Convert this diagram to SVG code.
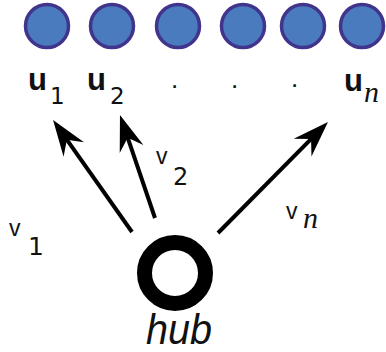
<svg xmlns="http://www.w3.org/2000/svg" width="386" height="352" viewBox="0 0 386 352">
  <defs>
    <style>
      .node { fill: #4a7bbf; stroke: #41348c; stroke-width: 3.5; }
      .u { font-family: "Liberation Sans", Arial, sans-serif; font-weight: bold; font-size: 31px; fill: #111; }
      .sub { font-family: "DejaVu Sans", sans-serif; font-size: 23px; fill: #111; }
      .it { font-family: "Liberation Serif", serif; font-style: italic; font-size: 30px; fill: #111; }
      .v { font-family: "Liberation Sans", Arial, sans-serif; font-size: 23px; fill: #111; }
      .dot { font-family: "Liberation Sans", Arial, sans-serif; font-size: 26px; fill: #111; }
      .edge { stroke: #000; stroke-width: 4; fill: none; marker-end: url(#stealth); }
      .hubtxt { font-family: "Liberation Sans", Arial, sans-serif; font-style: italic; font-size: 42px; fill: #111; }
    </style>
    <marker id="stealth" markerUnits="userSpaceOnUse" markerWidth="60" markerHeight="60" refX="0" refY="0" orient="auto" overflow="visible" viewBox="-30 -30 60 60">
      <path d="M15,0 L-21,-12.5 L-9,0 L-21,12.5 Z" fill="#000"/>
    </marker>
  </defs>
  <rect width="386" height="352" fill="#fff"/>

  <g id="u1">
    <circle class="node" cx="47" cy="26" r="21.5"/>
    <text class="u" x="28" y="90">u</text>
    <text class="sub" x="50" y="104">1</text>
  </g>
  <g id="u2">
    <circle class="node" cx="112" cy="26" r="21.5"/>
    <text class="u" x="87" y="90">u</text>
    <text class="sub" x="110" y="104">2</text>
  </g>
  <g id="u3">
    <circle class="node" cx="178" cy="26" r="21.5"/>
    <text class="dot" x="171" y="88">.</text>
  </g>
  <g id="u4">
    <circle class="node" cx="243" cy="26" r="21.5"/>
    <text class="dot" x="231" y="88">.</text>
  </g>
  <g id="u5">
    <circle class="node" cx="303" cy="26" r="21.5"/>
    <text class="dot" x="291" y="87">.</text>
  </g>
  <g id="un">
    <circle class="node" cx="362" cy="26" r="21.5"/>
    <text class="u" x="344" y="91">u</text>
    <text class="it" x="364" y="102">n</text>
  </g>

  <g id="connectors">
    <line class="edge" x1="132" y1="232" x2="61.7" y2="132.3"/>
    <line class="edge" x1="155" y1="218" x2="124.8" y2="129.2"/>
    <line class="edge" x1="218" y1="233" x2="317.4" y2="132.7"/>
    <g id="label-v1">
      <text class="v" x="9" y="236">v</text>
      <text class="sub" x="28" y="255" style="font-size:25px">1</text>
    </g>
    <g id="label-v2">
      <text class="v" x="156" y="164">v</text>
      <text class="sub" x="173" y="185" style="font-size:24px">2</text>
    </g>
    <g id="label-vn">
      <text class="v" x="286" y="219">v</text>
      <text class="it" x="303" y="228">n</text>
    </g>
  </g>

  <g id="hub">
    <circle cx="175" cy="273" r="30.5" fill="none" stroke="#000" stroke-width="15"/>
    <text class="hubtxt" x="146" y="344" textLength="66" lengthAdjust="spacingAndGlyphs">hub</text>
  </g>
</svg>
